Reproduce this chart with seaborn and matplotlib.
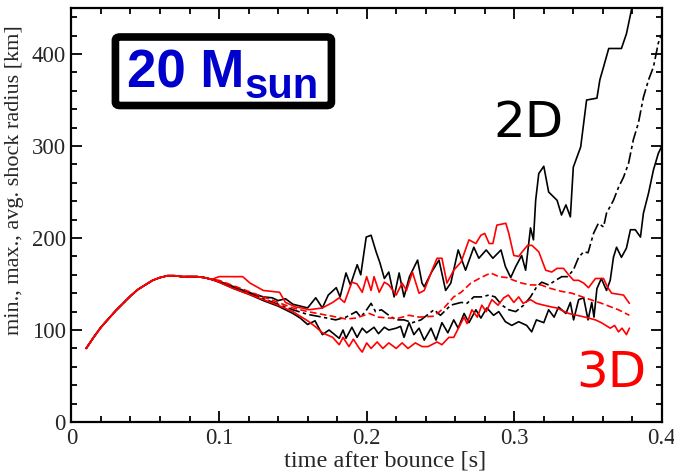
import matplotlib
matplotlib.use("Agg")
import matplotlib.pyplot as plt
from matplotlib.patches import FancyBboxPatch
from matplotlib.ticker import MultipleLocator
import seaborn as sns

# common rise phase, all six curves coincide here
early_t = [0.010, 0.015, 0.020, 0.025, 0.030, 0.035, 0.040, 0.045, 0.050,
           0.055, 0.060, 0.065, 0.070, 0.075, 0.080, 0.085, 0.090, 0.095]
early_r = [80, 92, 103, 112, 121, 129, 137, 144, 149,
           154, 157, 159, 159, 158, 158, 158, 157, 155]

# 2D run
t_2d_max = [0.100, 0.110, 0.120, 0.130, 0.136, 0.140, 0.145, 0.150, 0.155, 0.160,
            0.1655, 0.170, 0.174, 0.1794, 0.182, 0.186, 0.189, 0.1936, 0.196, 0.1997,
            0.203, 0.2064, 0.209, 0.212, 0.215, 0.2186, 0.222, 0.2253, 0.229, 0.2345,
            0.2375, 0.239, 0.244, 0.249, 0.2535, 0.257, 0.262, 0.267, 0.2726, 0.276,
            0.281, 0.2855, 0.291, 0.294, 0.2976, 0.301, 0.305, 0.3077, 0.311, 0.313,
            0.3145, 0.3166, 0.320, 0.3233, 0.329, 0.332, 0.335, 0.338, 0.340, 0.345,
            0.349, 0.356, 0.358, 0.3605, 0.364, 0.3726, 0.376, 0.3794, 0.381]
r_2d_max = [153, 147, 141, 136, 135, 132, 134, 128, 126, 124,
            135, 124, 138, 146, 136, 162, 149, 171, 160, 201,
            203, 185, 173, 156, 163, 136, 162, 136, 158, 176,
            151, 147, 163, 176, 143, 151, 187, 165, 190, 178,
            187, 178, 187, 169, 157, 169, 181, 165, 211, 198,
            241, 270, 278, 250, 241, 225, 236, 223, 277, 299,
            350, 352, 372, 386, 406, 406, 422, 448, 470]

t_2d_min = [0.100, 0.110, 0.120, 0.130, 0.140, 0.150, 0.155, 0.160, 0.165, 0.170,
            0.1745, 0.1814, 0.184, 0.186, 0.190, 0.1935, 0.197, 0.200, 0.205, 0.208,
            0.212, 0.215, 0.220, 0.223, 0.2253, 0.2287, 0.232, 0.2355, 0.239, 0.2436,
            0.247, 0.251, 0.255, 0.259, 0.262, 0.266, 0.2693, 0.274, 0.2774, 0.2814,
            0.286, 0.2895, 0.294, 0.2983, 0.303, 0.3084, 0.3118, 0.315, 0.320, 0.3233,
            0.327, 0.330, 0.335, 0.338, 0.3402, 0.3436, 0.347, 0.350, 0.3525, 0.354,
            0.356, 0.359, 0.3625, 0.365, 0.3672, 0.3693, 0.3726, 0.376, 0.3787, 0.382,
            0.3855, 0.3875, 0.391, 0.3943, 0.3976, 0.3997, 0.402]
r_2d_min = [152, 145, 139, 132, 126, 118, 113, 106, 110, 95,
            100, 91, 100, 91, 103, 92, 102, 97, 103, 96,
            103, 100, 102, 104, 92, 108, 95, 102, 89, 102,
            89, 108, 97, 111, 102, 118, 108, 122, 113, 124,
            116, 120, 109, 105, 109, 105, 98, 111, 108, 122,
            114, 125, 118, 130, 111, 133, 135, 111, 130, 114,
            145, 156, 143, 154, 179, 190, 179, 189, 209, 209,
            201, 227, 249, 274, 292, 299, 310]

t_2d_avg = [0.100, 0.110, 0.120, 0.130, 0.140, 0.150, 0.160, 0.170, 0.179, 0.186,
            0.193, 0.196, 0.200, 0.203, 0.206, 0.210, 0.215, 0.220, 0.2253, 0.231,
            0.2368, 0.2456, 0.250, 0.257, 0.264, 0.268, 0.2726, 0.278, 0.2828, 0.287,
            0.2916, 0.2963, 0.301, 0.3064, 0.311, 0.3152, 0.3186, 0.3233, 0.328, 0.3322,
            0.336, 0.340, 0.3436, 0.347, 0.350, 0.3537, 0.357, 0.3605, 0.3625, 0.3672,
            0.3706, 0.374, 0.3774, 0.3807, 0.3841, 0.3875, 0.391, 0.3943, 0.3976, 0.3997]
r_2d_avg = [153, 146, 140, 134, 128, 122, 117, 114, 111, 114,
            120, 114, 122, 129, 120, 122, 116, 111, 111, 108,
            111, 122, 116, 127, 130, 129, 136, 136, 138, 136,
            127, 122, 120, 127, 136, 147, 152, 149, 154, 158,
            158, 165, 179, 185, 184, 205, 216, 212, 227, 241,
            255, 266, 281, 307, 325, 353, 372, 386, 412, 421]

# 3D run
t_3d_max = [0.100, 0.116, 0.121, 0.130, 0.141, 0.145, 0.152, 0.156, 0.161, 0.170,
            0.177, 0.1814, 0.185, 0.190, 0.1935, 0.197, 0.200, 0.203, 0.205, 0.2085,
            0.212, 0.215, 0.220, 0.224, 0.227, 0.231, 0.2355, 0.239, 0.2443, 0.2477,
            0.251, 0.2544, 0.259, 0.264, 0.2693, 0.274, 0.2774, 0.280, 0.283, 0.2855,
            0.2882, 0.2943, 0.2963, 0.2997, 0.303, 0.3064, 0.309, 0.312, 0.3166, 0.3213,
            0.3254, 0.329, 0.3334, 0.3368, 0.3402, 0.3436, 0.347, 0.3503, 0.355, 0.3605,
            0.363, 0.366, 0.374, 0.378]
r_3d_max = [158, 158, 151, 143, 141, 130, 125, 124, 122, 124,
            130, 135, 130, 152, 150, 141, 158, 143, 158, 141,
            152, 149, 138, 151, 143, 163, 140, 143, 165, 178,
            178, 151, 165, 174, 198, 194, 203, 205, 194, 194,
            214, 216, 205, 181, 180, 187, 192, 192, 185, 165,
            163, 167, 167, 160, 154, 154, 151, 146, 156, 156,
            147, 140, 138, 129]

t_3d_avg = [0.100, 0.110, 0.120, 0.130, 0.140, 0.150, 0.160, 0.170, 0.180, 0.186,
            0.193, 0.2017, 0.208, 0.215, 0.222, 0.2287, 0.2355, 0.2456, 0.2524, 0.259,
            0.264, 0.2706, 0.2774, 0.2841, 0.2895, 0.295, 0.2997, 0.305, 0.311, 0.318,
            0.325, 0.332, 0.339, 0.348, 0.3592, 0.3706, 0.378]
r_3d_avg = [154, 148, 142, 136, 130, 124, 120, 117, 114, 112,
            113, 118, 114, 113, 113, 116, 114, 115, 124, 136,
            141, 151, 157, 162, 158, 157, 154, 151, 149, 149,
            145, 142, 140, 135, 129, 122, 116]

t_3d_min = [0.100, 0.110, 0.120, 0.130, 0.140, 0.150, 0.160, 0.165, 0.170, 0.177,
            0.1814, 0.184, 0.188, 0.191, 0.195, 0.197, 0.200, 0.203, 0.2071, 0.211,
            0.215, 0.220, 0.224, 0.228, 0.233, 0.2375, 0.2416, 0.2477, 0.251, 0.2557,
            0.259, 0.2625, 0.266, 0.268, 0.2713, 0.275, 0.278, 0.281, 0.2848, 0.289,
            0.2929, 0.296, 0.2997, 0.303, 0.306, 0.311, 0.315, 0.320, 0.3254, 0.3287,
            0.3368, 0.348, 0.355, 0.359, 0.365, 0.368, 0.3706, 0.373, 0.376, 0.378]
r_3d_min = [152, 145, 139, 133, 127, 120, 110, 104, 97, 92,
            84, 92, 82, 90, 80, 76, 86, 80, 87, 80,
            86, 80, 86, 80, 86, 82, 82, 87, 84, 92,
            92, 103, 114, 107, 122, 114, 127, 120, 133, 127,
            135, 138, 130, 136, 129, 133, 129, 127, 125, 124,
            118, 114, 111, 108, 102, 105, 98, 102, 95, 102]

x_ticks = [0, 0.1, 0.2, 0.3, 0.4]
x_tick_labels = ["0", "0.1", "0.2", "0.3", "0.4"]
y_ticks = [0, 100, 200, 300, 400]
y_tick_labels = ["0", "100", "200", "300", "400"]

sns.set_style("ticks")
plt.rcParams["font.family"] = ["DejaVu Sans"]

fig = plt.figure(figsize=(6.74, 4.71), dpi=100)
ax = fig.add_axes([0.106, 0.104, 0.876, 0.879])

curves = [
    (t_2d_max, r_2d_max, "black", "-"),
    (t_2d_min, r_2d_min, "black", "-"),
    (t_2d_avg, r_2d_avg, "black", (0, (7, 2, 2, 2))),
    (t_3d_max, r_3d_max, "#ff0000", "-"),
    (t_3d_min, r_3d_min, "#ff0000", "-"),
    (t_3d_avg, r_3d_avg, "#ff0000", (0, (4, 2))),
]
for t, r, col, ls in curves:
    sns.lineplot(x=early_t + t, y=early_r + r, ax=ax, color=col, linestyle=ls,
                 linewidth=1.2, sort=False, estimator=None)

serif = "Liberation Serif"
ax.set_xlim(0, 0.4)
ax.set_ylim(0, 450)
ax.set_xticks(x_ticks)
ax.set_xticklabels(x_tick_labels, family=serif, fontsize=16.5)
ax.set_yticks(y_ticks)
ax.set_yticklabels(y_tick_labels, family=serif, fontsize=16.5)
ax.xaxis.set_minor_locator(MultipleLocator(0.02))
ax.yaxis.set_minor_locator(MultipleLocator(20))
ax.tick_params(which="both", direction="in", top=True, right=True, width=1.3, color="black")
ax.tick_params(which="major", length=8, pad=4)
ax.tick_params(which="minor", length=4.5)
for sp in ax.spines.values():
    sp.set_linewidth(1.6)
    sp.set_color("black")

ax.set_xlabel("time after bounce [s]", family=serif, fontsize=17.5)
ax.xaxis.set_label_coords(0.531, -0.068)
ax.set_ylabel("min., max., avg. shock radius [km]", family=serif, fontsize=16)
ax.yaxis.set_label_coords(-0.080, 0.585)

# mass label box
box = FancyBboxPatch((0.0745, 0.7645), 0.3658, 0.1655, transform=ax.transAxes,
                     boxstyle="round,pad=0,rounding_size=0.008", fc="white", ec="black",
                     lw=5.5, zorder=5)
ax.add_patch(box)
ax.text(0.094, 0.807, "20 M", transform=ax.transAxes, color="#0000cc", fontsize=38,
        fontweight="bold", family="Liberation Sans", ha="left", va="baseline", zorder=6)
ax.text(0.293, 0.783, "sun", transform=ax.transAxes, color="#0000cc", fontsize=30,
        fontweight="bold", family="Liberation Sans", ha="left", va="baseline", zorder=6)

ax.text(0.715, 0.688, "2D", transform=ax.transAxes, color="black", fontsize=36,
        ha="left", va="baseline")
ax.text(0.855, 0.084, "3D", transform=ax.transAxes, color="#ff0000", fontsize=36,
        ha="left", va="baseline")

fig.savefig("out.png", dpi=100)
